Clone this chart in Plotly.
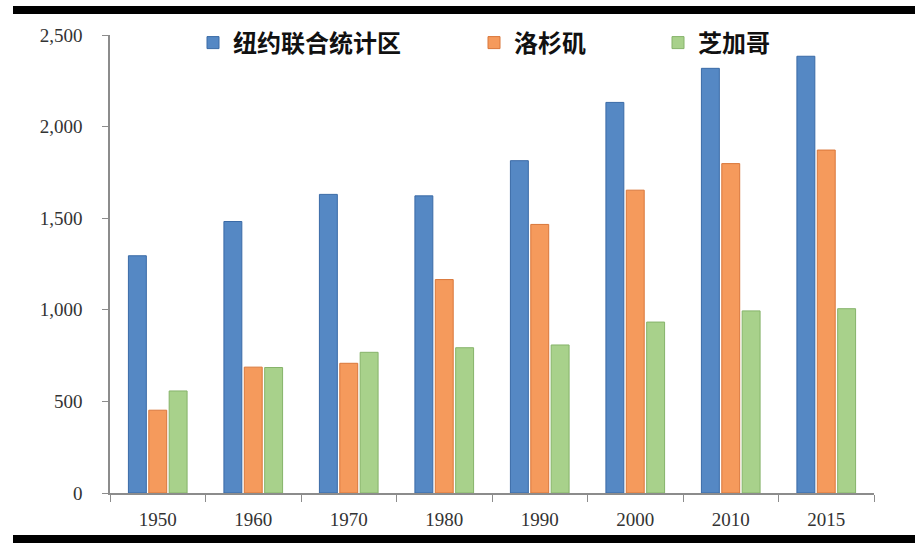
import plotly.graph_objects as go

years = ["1950", "1960", "1970", "1980", "1990", "2000", "2010", "2015"]
new_york = [1295, 1482, 1630, 1622, 1814, 2132, 2318, 2384]
los_angeles = [452, 687, 708, 1165, 1466, 1653, 1798, 1872]
chicago = [557, 685, 768, 793, 808, 933, 994, 1006]

series_names = ["纽约联合统计区", "洛杉矶", "芝加哥"]
y_ticks = [0, 500, 1000, 1500, 2000, 2500]

W, H = 922, 553
L, R, T, B = 110, 48, 35, 60
PW = W - L - R
PH = H - T - B


def px_x(p):
    return (p - L) / PW


def px_y(p):
    return (H - B - p) / PH


colors = ["#5588C4", "#F59A5C", "#A8D18B"]
edges = ["#3A6AA6", "#D9773A", "#86B36A"]
legends = ["legend", "legend2", "legend3"]

fig = go.Figure()
for name, vals, c, e, lg in zip(series_names, [new_york, los_angeles, chicago], colors, edges, legends):
    fig.add_trace(go.Bar(
        x=years, y=vals, name=name,
        marker=dict(color=c, line=dict(color=e, width=1)),
        legend=lg, showlegend=True,
    ))

leg_font = dict(family="Noto Sans CJK SC", size=24, color="#111111", weight="bold")
legend_common = dict(orientation="h", yanchor="middle", xanchor="left",
                     font=leg_font, bgcolor="rgba(0,0,0,0)", itemwidth=30)

fig.update_layout(
    width=W, height=H,
    margin=dict(l=L, r=R, t=T, b=B),
    paper_bgcolor="white", plot_bgcolor="white",
    showlegend=True,
    barmode="group", bargap=0.36, bargroupgap=0.12,
    legend=dict(x=px_x(193), y=px_y(43), **legend_common),
    legend2=dict(x=px_x(474), y=px_y(43), **legend_common),
    legend3=dict(x=px_x(658), y=px_y(43), **legend_common),
    xaxis=dict(
        type="category", showline=True, linecolor="#8C8C8C", linewidth=1.5,
        ticks="outside", tickson="boundaries", ticklen=7, tickcolor="#8C8C8C",
        tickfont=dict(family="Liberation Serif", size=19, color="#333333"),
        ticklabelstandoff=8, showgrid=False, zeroline=False,
    ),
    yaxis=dict(
        range=[0, 2500], tickvals=y_ticks, tickformat=",",
        showline=True, linecolor="#8C8C8C", linewidth=1.5,
        ticks="outside", ticklen=6, tickcolor="#8C8C8C",
        tickfont=dict(family="Liberation Serif", size=19, color="#333333"),
        ticklabelstandoff=16, showgrid=False, zeroline=False,
    ),
    shapes=[
        dict(type="rect", xref="paper", yref="paper",
             x0=px_x(13), x1=px_x(915), y0=px_y(14), y1=px_y(6),
             fillcolor="black", line=dict(width=0), layer="above"),
        dict(type="rect", xref="paper", yref="paper",
             x0=px_x(13), x1=px_x(915), y0=px_y(543), y1=px_y(535),
             fillcolor="black", line=dict(width=0), layer="above"),
    ],
)

fig.write_html("out.html")
